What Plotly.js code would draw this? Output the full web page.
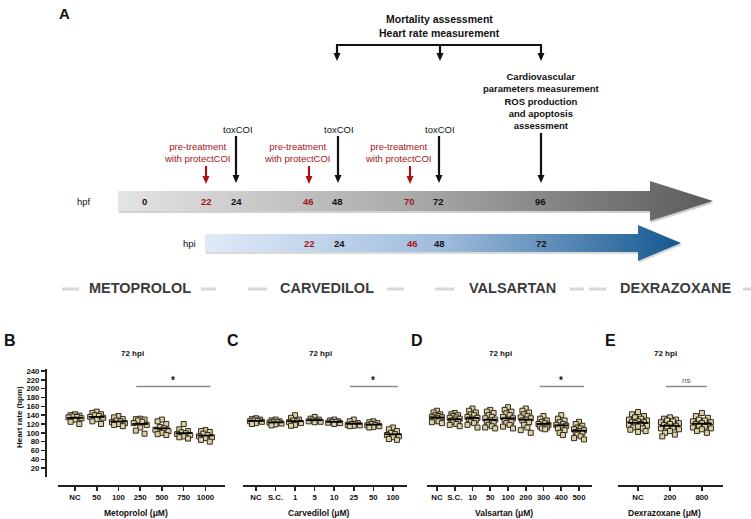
<!DOCTYPE html>
<html><head><meta charset="utf-8">
<script src="https://cdn.plot.ly/plotly-3.0.1.min.js"></script>
<style>html,body{margin:0;padding:0;background:#fff}#chart{width:751px;height:519px}</style>
</head><body><div id="chart"></div>
<script>
// ---------------- DATA ----------------
const panelTime = '72 hpi';
const sectionNames = ['METOPROLOL','CARVEDILOL','VALSARTAN','DEXRAZOXANE'];

const metoprololDoses = ['NC','50','100','250','500','750','1000'];
const metoprololHR = [
  [142,140,139,137,136,135,133,130,125,120],
  [148,145,142,140,138,136,134,131,126,120],
  [138,135,131,128,126,124,122,120,118,115],
  [132,131,130,128,125,122,118,112,105,98],
  [130,126,120,113,110,107,104,100,97,95],
  [120,108,104,101,99,97,95,92,90,87],
  [106,104,102,98,95,92,90,88,84,80]
];
const metoprololSig = ['250','1000','*'];

const carvedilolDoses = ['NC','S.C.','1','5','10','25','50','100'];
const carvedilolHR = [
  [133,131,130,128,127,126,125,122,120],
  [130,128,126,125,124,123,121,119,117],
  [140,134,130,128,126,124,122,118,116],
  [136,132,130,128,127,126,125,124],
  [130,128,126,125,124,123,122,120],
  [130,126,122,120,119,118,117,116,115],
  [126,124,122,120,118,117,115,113,112],
  [112,108,104,100,97,95,92,90,86,84]
];
const carvedilolSig = ['25','100','*'];

const valsartanDoses = ['NC','S.C.','10','50','100','200','300','400','500'];
const valsartanHR = [
  [150,146,142,140,138,136,135,134,132,130,128,126,124,122],
  [145,142,140,138,135,134,132,130,128,126,124,120,118,115],
  [155,150,146,142,140,136,134,132,130,128,125,122,118,112],
  [152,148,145,140,136,133,130,128,125,122,118,115,112,110],
  [158,152,148,144,140,136,133,130,128,125,122,118,114,110],
  [155,150,146,142,138,135,133,130,128,124,118,112,106,100],
  [138,132,128,125,122,120,118,116,114,112,110,108],
  [140,132,128,124,120,118,116,114,110,106,100,95],
  [125,120,116,112,110,108,106,104,102,100,96,92,88,85]
];
const valsartanSig = ['300','500','*'];

const dexrazoxaneDoses = ['NC','200','800'];
const dexrazoxaneHR = [
  [147,142,138,135,132,130,128,126,125,124,122,120,118,116,114,112,110,107,104,102],
  [135,132,130,128,126,124,122,120,118,116,114,112,110,108,104,100,96,92],
  [145,138,134,130,128,126,124,122,120,118,116,114,112,110,108,104,100]
];
const dexrazoxaneSig = ['200','800','ns'];

const axisTitles = ['Metoprolol (\u03bcM)','Carvedilol (\u03bcM)','Valsartan (\u03bcM)','Dexrazoxane (\u03bcM)'];
const yTitle = 'Heart rate (bpm)';
const yTicks = [20,40,60,80,100,120,140,160,180,200,220,240];

// timeline labels
const hpfLabels = ['0','22','24','46','48','70','72','96'];
const hpiLabels = ['22','24','46','48','72'];

// ---------------- LAYOUT HELPERS ----------------
const W = 751, H = 519;
const FONT = 'Liberation Sans, Arial, sans-serif';
const px = x => x / W;
const py = y => 1 - y / H;
const annotations = [];
const shapes = [];
function txt(x, y, text, o) {
  o = o || {};
  annotations.push({
    xref: 'paper', yref: 'paper', x: px(x), y: py(y), text: text, showarrow: false,
    xanchor: o.xa || 'center', yanchor: o.ya || 'middle', textangle: o.angle || 0,
    font: {family: o.family || FONT, size: o.size || 9, color: o.color || '#111', weight: o.bold ? 'bold' : 'normal'},
    align: 'center'
  });
}
function vArrow(x, y0, y1, color, lw, hw, hl) {
  shapes.push({type: 'line', xref: 'paper', yref: 'paper', x0: px(x), x1: px(x), y0: py(y0), y1: py(y1 - hl + 1),
    line: {color: color, width: lw}});
  shapes.push({type: 'path', xref: 'paper', yref: 'paper',
    path: `M ${px(x - hw)} ${py(y1 - hl)} L ${px(x + hw)} ${py(y1 - hl)} L ${px(x)} ${py(y1)} Z`,
    fillcolor: color, line: {width: 0}});
}
function hLine(x0, x1, y, color, w) {
  shapes.push({type: 'line', xref: 'paper', yref: 'paper', x0: px(x0), x1: px(x1), y0: py(y), y1: py(y), line: {color: color, width: w}});
}

const RED = '#a41616';
const traces = [];

// ---------------- PANEL A (timeline diagram) ----------------
txt(57, 13, 'A', {size: 15, bold: true, xa: 'left'});
txt(440, 19, 'Mortality assessment', {size: 10.5, bold: true});
txt(440, 33, 'Heart rate measurement', {size: 10.5, bold: true});
hLine(336, 542, 45, '#111', 2.2);
[337, 440, 541].forEach(x => vArrow(x, 45, 61, '#111', 2.2, 3.5, 8));
txt(541, 101, 'Cardiovascular<br>parameters measurement<br>ROS production<br>and apoptosis<br>assessment', {size: 9.5, bold: true});
vArrow(541, 133, 183, '#111', 2.2, 3.5, 8);
[[238, 236], [339, 338], [440, 439]].forEach(p => {
  txt(p[0], 129, 'toxCOI', {size: 9.5});
  vArrow(p[1], 136, 183, '#111', 2.2, 3.5, 8);
});
[[197, 206], [297, 309], [398, 410]].forEach(p => {
  txt(p[0], 152, 'pre-treatment<br>with protectCOI', {size: 9.5, color: RED});
  vArrow(p[1], 166, 184, RED, 2.2, 3.5, 8);
});

// gradient arrows drawn on a full-page pixel axis
const grayArrowX = [118, 650, 650, 713, 650, 650, 118, 118];
const grayArrowY = [191, 191, 181, 201, 221, 211, 211, 191];
const blueArrowX = [205, 638, 638, 681, 638, 638, 205, 205];
const blueArrowY = [234, 234, 225, 243, 261, 252, 252, 234];
traces.push({type: 'scatter', mode: 'lines', xaxis: 'x5', yaxis: 'y5', hoverinfo: 'skip',
  x: grayArrowX.map(v => v + 1), y: grayArrowY.map(v => v + 2), fill: 'toself', fillcolor: 'rgba(0,0,0,0.18)', line: {width: 0}});
traces.push({type: 'scatter', mode: 'lines', xaxis: 'x5', yaxis: 'y5', hoverinfo: 'skip',
  x: grayArrowX, y: grayArrowY, fill: 'toself', line: {width: 0},
  fillgradient: {type: 'horizontal', colorscale: [[0, '#e4e4e4'], [0.5, '#a9a9a9'], [1, '#5b5b5b']]}});
traces.push({type: 'scatter', mode: 'lines', xaxis: 'x5', yaxis: 'y5', hoverinfo: 'skip',
  x: blueArrowX.map(v => v + 1), y: blueArrowY.map(v => v + 2), fill: 'toself', fillcolor: 'rgba(0,0,0,0.15)', line: {width: 0}});
traces.push({type: 'scatter', mode: 'lines', xaxis: 'x5', yaxis: 'y5', hoverinfo: 'skip',
  x: blueArrowX, y: blueArrowY, fill: 'toself', line: {width: 0},
  fillgradient: {type: 'horizontal', colorscale: [[0, '#e0eaf7'], [0.5, '#9fbcdc'], [1, '#14588f']]}});

txt(84, 201, 'hpf', {size: 9.5});
const hpfX = [144, 206, 236, 308, 337, 409, 438, 540];
const hpfRed = ['22', '46', '70'];
hpfLabels.forEach((l, i) => txt(hpfX[i], 201, l, {size: 9.5, bold: true, color: hpfRed.includes(l) ? RED : '#111'}));
txt(189, 243, 'hpi', {size: 9.5});
const hpiX = [309, 339, 412, 440, 541];
const hpiRed = ['22', '46'];
hpiLabels.forEach((l, i) => txt(hpiX[i], 243, l, {size: 9.5, bold: true, color: hpiRed.includes(l) ? RED : '#111'}));

// section headers
const sectionX = [140, 327, 512, 676];
sectionNames.forEach((n, i) => txt(sectionX[i], 288, n, {size: 14.5, bold: true, color: '#3c3c3c'}));
[[62, 79], [201, 216], [248, 267], [387, 404], [435, 454], [570, 584], [589, 606], [743, 751]].forEach(d => hLine(d[0], d[1], 289, '#d6d6d6', 3));

// ---------------- PANELS B-E ----------------
const yRange = [0, 244.5];
const yDom = [py(477), py(369)];
const panels = [
  {letter: 'B', lx: 2, tx: 132, dom: [58, 225], range: [-0.78, 6.9], cats: metoprololDoses, data: metoprololHR, sig: metoprololSig, spread: 6.5, half: 8},
  {letter: 'C', lx: 225, tx: 320, dom: [243, 407], range: [-0.66, 7.72], cats: carvedilolDoses, data: carvedilolHR, sig: carvedilolSig, spread: 6, half: 8},
  {letter: 'D', lx: 409, tx: 500, dom: [427, 592], range: [-0.56, 8.73], cats: valsartanDoses, data: valsartanHR, sig: valsartanSig, spread: 5, half: 7},
  {letter: 'E', lx: 603, tx: 665, dom: [618, 723], range: [-0.625, 2.66], cats: dexrazoxaneDoses, data: dexrazoxaneHR, sig: dexrazoxaneSig, spread: 9, half: 10}
];
const jitterUnit = [0, -0.67, 0.67, -0.33, 0.33, -1, 1, 0, -0.67, 0.67, -0.33, 0.33, -1, 1, 0, -0.55, 0.55, -0.85, 0.85, 0];
const TICKFONT = {family: FONT, size: 7.8, weight: 'bold', color: '#111'};
const layout = {
  width: W, height: H, margin: {l: 0, r: 0, t: 0, b: 0}, paper_bgcolor: '#fff', plot_bgcolor: 'rgba(0,0,0,0)',
  showlegend: false, font: {family: FONT, color: '#111'},
  xaxis5: {domain: [0, 1], range: [0, W], visible: false, fixedrange: true, anchor: 'y5'},
  yaxis5: {domain: [0, 1], range: [H, 0], visible: false, fixedrange: true, anchor: 'x5'}
};

panels.forEach((p, k) => {
  const n = k + 1;
  const xa = 'x' + n, ya = 'y' + n;
  const xKey = 'xaxis' + (n === 1 ? '' : n), yKey = 'yaxis' + (n === 1 ? '' : n);
  const spacing = (p.dom[1] - p.dom[0]) / (p.range[1] - p.range[0]);
  layout[xKey] = {
    domain: [px(p.dom[0]), px(p.dom[1])], range: p.range, anchor: 'free', position: py(485),
    showline: true, linecolor: '#222', linewidth: 1.6, ticks: 'outside', ticklen: 4, tickwidth: 1.6, tickcolor: '#222',
    tickvals: p.cats.map((c, i) => i), ticktext: p.cats, showgrid: false, zeroline: false, fixedrange: true,
    tickfont: TICKFONT
  };
  layout[yKey] = {
    domain: yDom, range: yRange, anchor: k === 0 ? 'free' : xa, position: px(45), showgrid: false, zeroline: false, fixedrange: true,
    visible: k === 0, showline: true, linecolor: '#222', linewidth: 1.6, ticks: 'outside', ticklen: 4, tickwidth: 1.6, tickcolor: '#222',
    tickvals: yTicks, ticktext: yTicks.map(String), ticklabelstandoff: 0,
    tickfont: TICKFONT
  };
  const xs = [], ys = [], mx = [], my = [];
  p.data.forEach((g, i) => {
    const sorted = g.slice().sort((a, b) => b - a);
    sorted.forEach((v, j) => { xs.push(i + jitterUnit[j % jitterUnit.length] * p.spread / spacing); ys.push(v); });
    const m = g.reduce((a, b) => a + b, 0) / g.length;
    mx.push(i - p.half / spacing, i + p.half / spacing, null); my.push(m, m, null);
  });
  traces.push({type: 'scatter', mode: 'markers', x: xs, y: ys, xaxis: xa, yaxis: ya, hoverinfo: 'skip', cliponaxis: false,
    marker: {symbol: 'square', size: 5, color: '#ddd0a6', line: {color: '#2e2a1c', width: 1}}});
  traces.push({type: 'scatter', mode: 'lines', x: mx, y: my, xaxis: xa, yaxis: ya, hoverinfo: 'skip', cliponaxis: false,
    line: {color: '#000', width: 1.8}});
  // significance bar
  const i0 = p.cats.indexOf(p.sig[0]), i1 = p.cats.indexOf(p.sig[1]);
  shapes.push({type: 'line', xref: xa, yref: ya, x0: i0 - 4 / spacing, x1: i1 + 5 / spacing, y0: 205, y1: 205, line: {color: '#8c8c8c', width: 1.5}});
  annotations.push({xref: xa, yref: ya, x: (i0 + i1) / 2, y: 219, text: p.sig[2], showarrow: false,
    font: {family: FONT, size: p.sig[2] === '*' ? 10 : 8, color: p.sig[2] === '*' ? '#111' : '#555', weight: p.sig[2] === '*' ? 'bold' : 'normal'}});
  txt(p.lx, 340, p.letter, {size: 16, bold: true, xa: 'left'});
  txt(p.tx, 353, panelTime, {size: 8, bold: true});
  txt((p.dom[0] + p.dom[1]) / 2 - 6, 513, axisTitles[k], {size: 8.5, bold: true});
});
txt(19, 417, yTitle, {size: 8, bold: true, angle: -90});

layout.annotations = annotations;
layout.shapes = shapes;
Plotly.newPlot('chart', traces, layout, {displayModeBar: false, staticPlot: true});
</script>
</body></html>
